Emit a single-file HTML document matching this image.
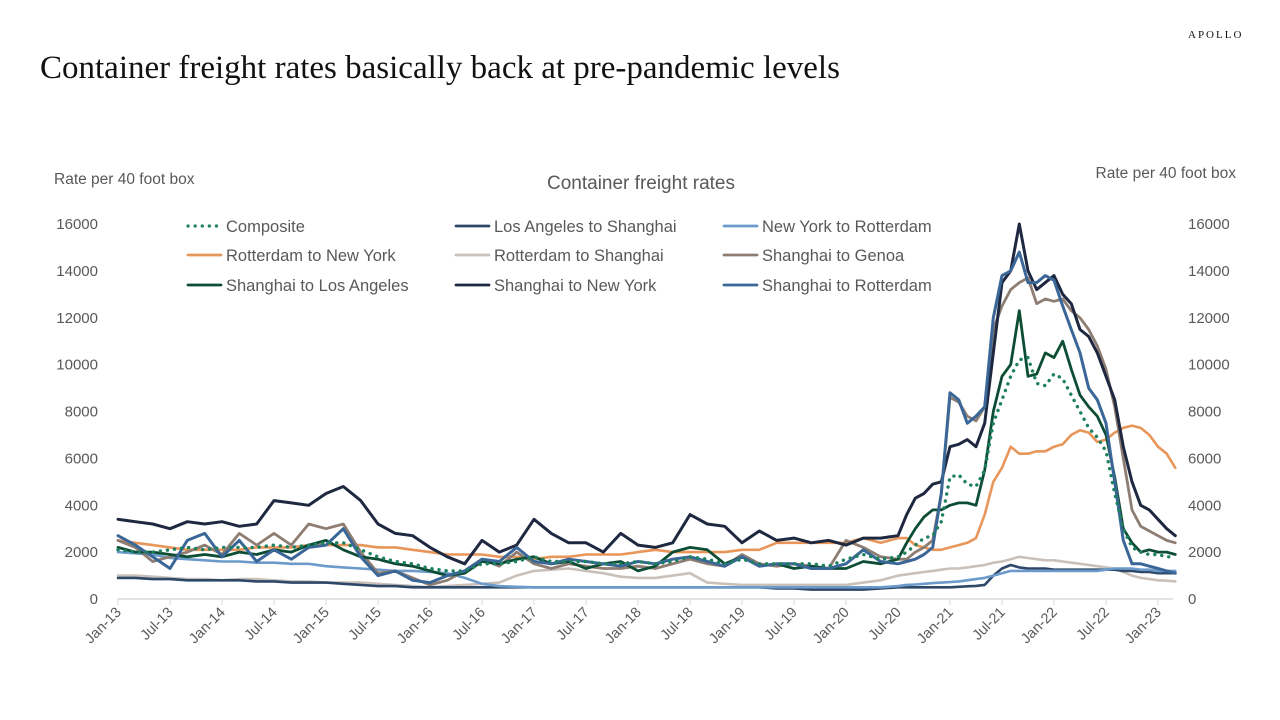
<!DOCTYPE html>
<html><head><meta charset="utf-8">
<style>
body{margin:0;background:#fff;width:1280px;height:720px;overflow:hidden;font-family:"Liberation Sans",sans-serif}
#title{position:absolute;left:40px;top:50px;font-family:"Liberation Serif",serif;font-size:33px;color:#111}
#logo{position:absolute;left:1188px;top:29px;font-family:"Liberation Serif",serif;font-size:11px;letter-spacing:2px;color:#111}
svg{position:absolute;left:0;top:0}
</style></head><body>
<div id="title">Container freight rates basically back at pre-pandemic levels</div>
<div id="logo">APOLLO</div>
<svg id="chart" width="1280" height="720"></svg>
<script>
const months=[0,2,4,6,8,10,12,14,16,18,20,22,24,26,28,30,32,34,36,38,40,42,44,46,48,50,52,54,56,58,60,62,64,66,68,70,72,74,76,78,80,82,84,86,88,90,
91,92,93,94,95,96,97,98,99,100,101,102,103,104,105,106,107,108,109,110,111,112,113,114,115,116,117,118,119,120,121,122];
const xTickLabels=["Jan-13","Jul-13","Jan-14","Jul-14","Jan-15","Jul-15","Jan-16","Jul-16","Jan-17","Jul-17","Jan-18","Jul-18","Jan-19","Jul-19","Jan-20","Jul-20","Jan-21","Jul-21","Jan-22","Jul-22","Jan-23"];
const yTicks=[0,2000,4000,6000,8000,10000,12000,14000,16000];
const composite=[2100,2000,2000,2100,2200,2100,2200,2200,2200,2300,2200,2300,2400,2400,2100,1800,1600,1500,1300,1200,1200,1500,1500,1600,1800,1600,1600,1600,1500,1500,1600,1500,1600,1800,1700,1500,1700,1500,1500,1500,1500,1400,1700,1900,1700,1800,
2000,2300,2600,2700,3300,5200,5300,4900,4800,5500,7500,8500,9500,10200,10300,9200,9100,9600,9400,8700,8000,7300,6900,6300,4500,3000,2200,2000,1900,1900,1800,1800];
const laSh=[900,900,850,850,800,800,800,800,750,750,700,700,700,650,600,550,550,500,500,500,500,500,500,500,500,500,500,500,500,500,500,500,500,500,500,500,500,500,450,450,400,400,400,400,450,500,
500,500,500,500,500,500,520,540,560,600,1000,1300,1450,1350,1300,1300,1300,1250,1250,1250,1250,1250,1250,1250,1250,1200,1200,1150,1150,1100,1100,1100];
const nyRot=[2000,1950,1900,1750,1700,1650,1600,1600,1550,1550,1500,1500,1400,1350,1300,1250,1200,1200,1150,1100,900,650,550,520,500,500,500,500,500,500,500,500,500,500,500,500,500,500,500,500,500,500,500,500,500,550,
600,620,650,680,700,720,750,800,850,900,1000,1100,1200,1200,1200,1200,1200,1200,1200,1200,1200,1200,1200,1250,1300,1300,1300,1250,1250,1200,1200,1200];
const rotNY=[2500,2400,2300,2200,2100,2100,2100,2100,2200,2200,2200,2300,2300,2300,2300,2200,2200,2100,2000,1900,1900,1900,1800,1800,1700,1800,1800,1900,1900,1900,2000,2100,2000,2000,2000,2000,2100,2100,2400,2400,2400,2400,2400,2600,2400,2600,
2600,2300,2200,2100,2100,2200,2300,2400,2600,3600,5000,5600,6500,6200,6200,6300,6300,6500,6600,7000,7200,7100,6700,6800,7100,7300,7400,7300,7000,6500,6200,5600];
const rotSh=[1000,1000,950,900,850,850,800,850,850,800,750,750,700,700,700,650,600,550,500,550,600,650,700,1000,1200,1250,1300,1200,1100,950,900,900,1000,1100,700,650,600,600,600,600,600,600,600,700,800,1000,
1050,1100,1150,1200,1250,1300,1300,1350,1400,1450,1550,1600,1700,1800,1750,1700,1650,1650,1600,1550,1500,1450,1400,1350,1300,1150,1000,900,850,800,780,750];
const shGen=[2500,2200,1600,1800,2000,2300,1900,2800,2300,2800,2300,3200,3000,3200,2000,1100,1200,900,600,800,1200,1700,1400,2000,1500,1300,1500,1400,1300,1300,1400,1300,1500,1700,1500,1400,1900,1500,1400,1500,1400,1300,2500,2200,1800,1700,
1700,2000,2200,2500,4500,8600,8400,7800,7600,8200,11500,12500,13200,13500,13700,12600,12800,12700,12800,12300,12000,11500,10800,9800,8200,6000,3800,3100,2900,2700,2500,2400];
const shLA=[2200,2000,2000,1900,1800,1900,1800,2000,1900,2100,2000,2300,2500,2100,1800,1700,1500,1400,1200,1000,1100,1600,1500,1700,1800,1500,1600,1300,1500,1600,1200,1400,2000,2200,2100,1500,1800,1400,1500,1300,1400,1300,1300,1600,1500,1700,
2400,3000,3500,3800,3800,4000,4100,4100,4000,5500,8000,9500,10000,12300,9500,9600,10500,10300,11000,9800,8700,8200,7800,7000,5200,3000,2400,2000,2100,2000,2000,1900];
const shNY=[3400,3300,3200,3000,3300,3200,3300,3100,3200,4200,4100,4000,4500,4800,4200,3200,2800,2700,2200,1800,1500,2500,2000,2300,3400,2800,2400,2400,2000,2800,2300,2200,2400,3600,3200,3100,2400,2900,2500,2600,2400,2500,2300,2600,2600,2700,
3600,4300,4500,4900,5000,6500,6600,6800,6500,7500,10500,13500,14000,16000,14000,13200,13500,13800,13000,12600,11500,11200,10500,9500,8500,6500,5000,4000,3800,3400,3000,2700];
const shRot=[2700,2300,1800,1300,2500,2800,1800,2500,1600,2100,1700,2200,2300,3000,1800,1000,1200,800,700,1000,1200,1700,1600,2200,1600,1500,1700,1600,1500,1400,1600,1500,1700,1800,1600,1400,1800,1400,1500,1500,1300,1300,1500,2100,1600,1500,
1600,1700,1900,2200,4500,8800,8500,7500,7800,8200,12000,13800,14000,14800,13500,13500,13800,13600,12500,11500,10500,9000,8500,7500,5000,2500,1500,1500,1400,1300,1200,1100];

const NS='http://www.w3.org/2000/svg';
const svg=document.getElementById('chart');
const X0=118,PXM=52/6,Y0=599,PXV=375/16000;
const xs=m=>X0+m*PXM, ys=v=>Y0-v*PXV;
function mk(tag,attrs,parent){const e=document.createElementNS(NS,tag);for(const k in attrs)e.setAttribute(k,attrs[k]);(parent||svg).appendChild(e);return e;}
let t=mk('text',{x:54,y:184,'font-size':15.5,fill:'#595959'});t.textContent='Rate per 40 foot box';


t=mk('text',{x:1236,y:178,'font-size':15.5,fill:'#595959','text-anchor':'end'});t.textContent='Rate per 40 foot box';


t=mk('text',{x:641,y:189,'font-size':19,fill:'#595959','text-anchor':'middle'});t.textContent='Container freight rates';


yTicks.forEach(v=>{
  let a=mk('text',{x:98,y:ys(v)+5,'font-size':15,fill:'#595959','text-anchor':'end'});a.textContent=v;
  
  
  let b=mk('text',{x:1188,y:ys(v)+5,'font-size':15,fill:'#595959'});b.textContent=v;
  
  
});
let ax=mk('line',{x1:X0,x2:1173,y1:Y0,y2:Y0,stroke:'#d9d9d9','stroke-width':1.5});


xTickLabels.forEach((l,i)=>{
  const x=xs(i*6);
  let tk=mk('line',{x1:x,x2:x,y1:Y0,y2:Y0+6,stroke:'#d9d9d9','stroke-width':1});
  
  
  let tx=mk('text',{x:x+4,y:Y0+14,'font-size':14.5,fill:'#595959','text-anchor':'end',transform:`rotate(-45 ${x+4} ${Y0+14})`});
  tx.textContent=l;
  
  
});
const series=[
 ['rotterdam-to-shanghai',rotSh,'#c9c1b9',2.6,null],
 ['los-angeles-to-shanghai',laSh,'#2d4868',2.6,null],
 ['new-york-to-rotterdam',nyRot,'#6c9bcb',2.6,null],
 ['rotterdam-to-new-york',rotNY,'#e9965a',2.6,null],
 ['shanghai-to-genoa',shGen,'#8e7d72',2.8,null],
 ['shanghai-to-new-york',shNY,'#1e2840',3,null],
 ['shanghai-to-los-angeles',shLA,'#0d4d33',2.8,null],
 ['shanghai-to-rotterdam',shRot,'#3a6797',3,null],
 ['composite',composite,'#1d8060',3.4,'0.1 7']
];
series.forEach(s=>{
  const d=s[1].map((v,i)=>(i?'L':'M')+xs(months[i]).toFixed(1)+','+ys(v).toFixed(1)).join('');
  const p=mk('path',{d:d,fill:'none',stroke:s[2],'stroke-width':s[3],'stroke-linejoin':'round','stroke-linecap':'round'});
  if(s[4])p.setAttribute('stroke-dasharray',s[4]);
  
  
});
const legend=[
 ['Composite','#1d8060',188,226,true],['Los Angeles to Shanghai','#2d4868',456,226],['New York to Rotterdam','#6c9bcb',724,226],
 ['Rotterdam to New York','#e9965a',188,255],['Rotterdam to Shanghai','#c9c1b9',456,255],['Shanghai to Genoa','#8e7d72',724,255],
 ['Shanghai to Los Angeles','#0d4d33',188,285],['Shanghai to New York','#1e2840',456,285],['Shanghai to Rotterdam','#3a6797',724,285]];
legend.forEach(l=>{
  const g=mk('g',{});
  
  
  const ln=mk('line',{x1:l[2],x2:l[2]+33,y1:l[3],y2:l[3],stroke:l[1],'stroke-width':l[4]?3.2:2.8,'stroke-linecap':'round'},g);
  if(l[4])ln.setAttribute('stroke-dasharray','0.1 7');
  const tx=mk('text',{x:l[2]+38,y:l[3]+6,'font-size':16.5,fill:'#595959'},g);tx.textContent=l[0];
});
</script>
</body></html>
